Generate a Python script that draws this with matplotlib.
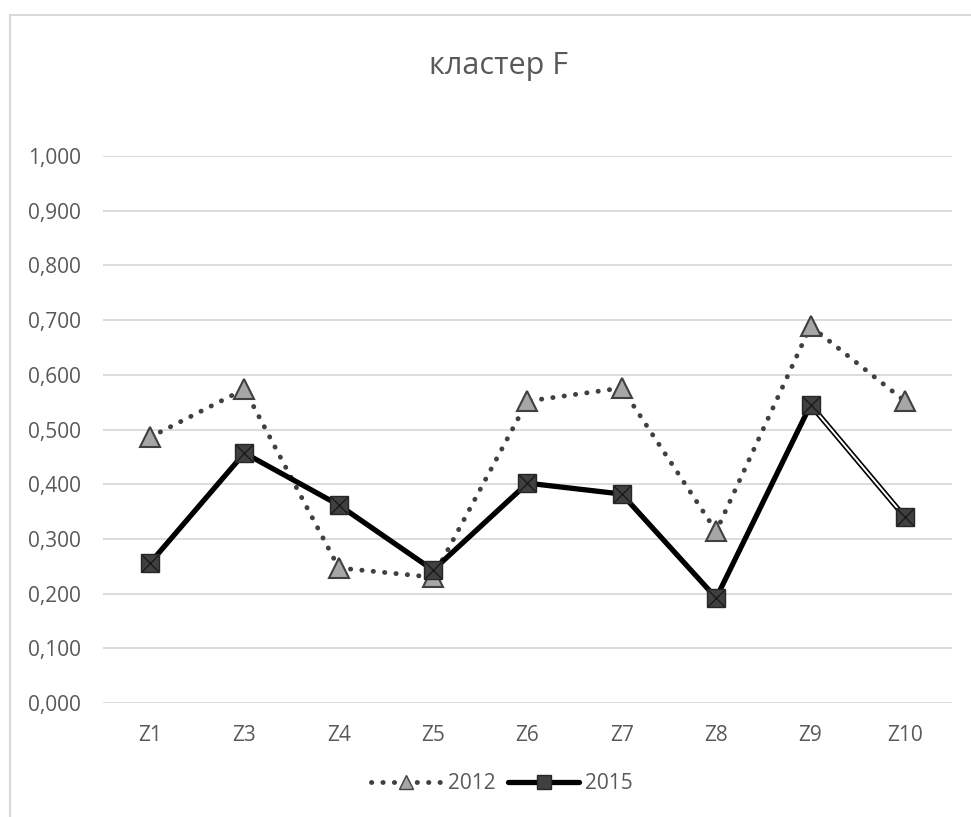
import matplotlib.pyplot as plt
from matplotlib.lines import Line2D
from matplotlib.ticker import FuncFormatter, MultipleLocator

plt.rcParams['font.family'] = ['Open Sans', 'DejaVu Sans']

zones = ['Z1', 'Z3', 'Z4', 'Z5', 'Z6', 'Z7', 'Z8', 'Z9', 'Z10']
v2012 = [0.486, 0.574, 0.247, 0.230, 0.552, 0.576, 0.314, 0.689, 0.552]
v2015 = [0.256, 0.457, 0.362, 0.243, 0.402, 0.382, 0.192, 0.545, 0.340]

txt = '#595959'
x = list(range(len(zones)))

fig = plt.figure(figsize=(9.71, 8.17), dpi=100)
ax = fig.add_axes([0.106, 0.1395, 0.8745, 0.6695])

# chart frame (left and top edges visible)
fig.add_artist(Line2D([0.0103, 0.0103], [0, 0.9816], color='#d9d9d9', lw=1.5))
fig.add_artist(Line2D([0.0103, 1], [0.9816, 0.9816], color='#d9d9d9', lw=1.5))

l12, = ax.plot(x, v2012, color='#404040', lw=3.5, linestyle=(0, (0.05, 2.3)),
               dash_capstyle='round', marker='^', markersize=14,
               markerfacecolor='#a6a6a6', markeredgecolor='#404040',
               markeredgewidth=1.5, zorder=3)

l15, = ax.plot(x, v2015, color='black', lw=3.8, solid_capstyle='round',
               zorder=4)
# last segment drawn as a double line
ax.plot(x[-2:], v2015[-2:], color='white', lw=1.4, zorder=4.5)
m15, = ax.plot(x, v2015, linestyle='none', marker='s', markersize=13,
               markerfacecolor='#404040', markeredgecolor='#262626',
               markeredgewidth=1, zorder=5)
x15, = ax.plot(x, v2015, linestyle='none', marker='x', markersize=12,
               markeredgecolor='#1a1a1a', markeredgewidth=1, zorder=6)

ax.set_xlim(-0.5, len(zones) - 0.5)
ax.set_ylim(0, 1.0)
ax.yaxis.set_major_locator(MultipleLocator(0.1))
ax.yaxis.set_major_formatter(FuncFormatter(lambda v, p: f'{v:.3f}'.replace('.', ',')))
ax.set_xticks(x)
ax.set_xticklabels(zones)
ax.grid(axis='y', color='#d9d9d9', lw=1.3)
ax.set_axisbelow(True)
for s in ax.spines.values():
    s.set_visible(False)
ax.tick_params(length=0, labelsize=15, colors=txt)
ax.tick_params(axis='y', pad=16)
ax.tick_params(axis='x', pad=16)

fig.text(0.513, 0.919, 'кластер F', ha='center', va='center',
         fontsize=22, color=txt)

h12 = Line2D([], [], color='#404040', lw=3.5, linestyle=(0, (0.05, 2.3)),
             dash_capstyle='round', marker='^', markersize=10,
             markerfacecolor='#a6a6a6', markeredgecolor='#404040')
h15 = Line2D([], [], color='black', lw=3.8, solid_capstyle='round', marker='s',
             markersize=10, markerfacecolor='#404040', markeredgecolor='#262626')
leg = fig.legend([h12, h15], ['2012', '2015'], loc='center',
                 bbox_to_anchor=(0.517, 0.041), ncol=2, frameon=False,
                 fontsize=15, handlelength=3.4, columnspacing=0.6,
                 handletextpad=0.3)
for t in leg.get_texts():
    t.set_color(txt)

fig.savefig('out.png', dpi=100)
